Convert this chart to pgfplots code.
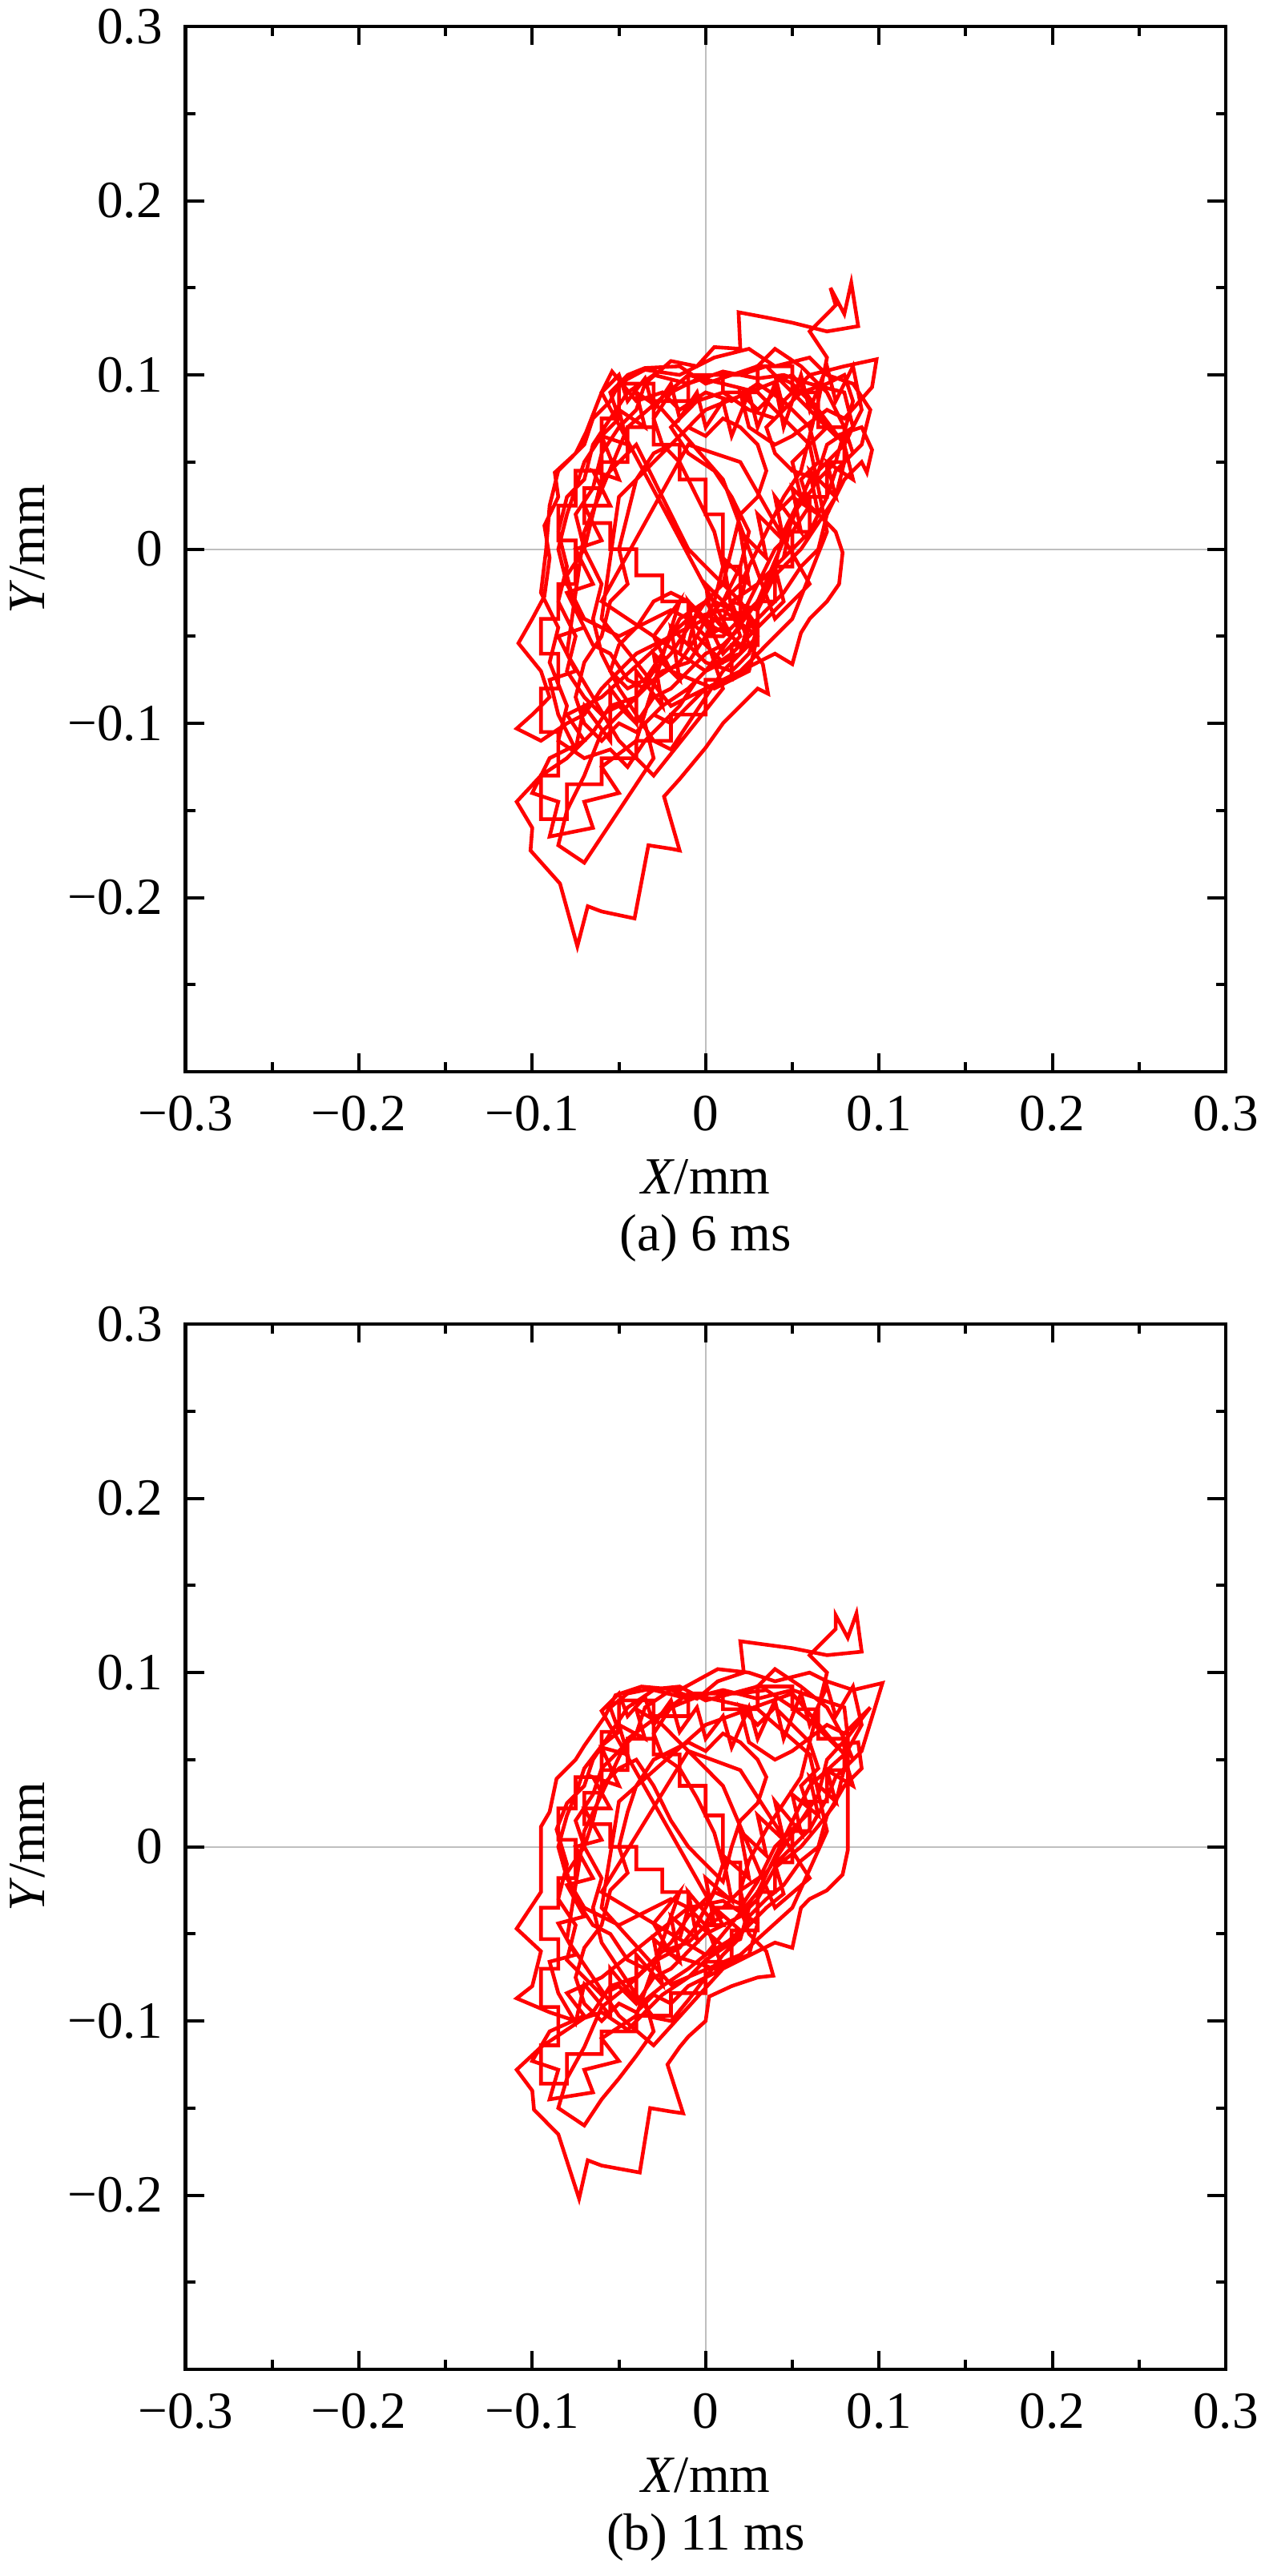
\documentclass[border=0pt]{standalone}
\usepackage{fontspec}
\setmainfont{Liberation Serif}
\usepackage{pgfplots}
\pgfplotsset{compat=1.18}
\newcommand\ff{\fontsize{16.3pt}{19.5pt}\selectfont}
\pgfplotsset{
  mystyle/.style={
    scale only axis, width=324.6pt, height=326.2pt,
    anchor=south west,
    xmin=-0.3,xmax=0.3,ymin=-0.3,ymax=0.3,
    xtick={-0.3,-0.2,-0.1,0,0.1,0.2,0.3},
    xticklabels={−0.3,−0.2,−0.1,0,0.1,0.2,0.3},
    ytick={-0.2,-0.1,0,0.1,0.2,0.3},
    yticklabels={−0.2,−0.1,0,0.1,0.2,0.3},
    minor xtick={-0.25,-0.15,-0.05,0.05,0.15,0.25},
    minor ytick={-0.25,-0.15,-0.05,0.05,0.15,0.25},
    tick align=inside, tick pos=both,
    major tick length=5.75pt, minor tick length=3pt,
    tick style={black, line width=1pt},
    axis line style={line width=1.1pt},
    extra x ticks={0}, extra y ticks={0},
    extra x tick labels={}, extra y tick labels={},
    extra tick style={grid=major, major grid style={draw=black!25, line width=0.5pt}},
    xticklabel style={inner sep=0pt, yshift=-7.25pt, font=\ff},
    yticklabel style={inner sep=0pt, xshift=-7pt, font=\ff},
    xlabel={\textit{X}/mm}, ylabel={\textit{Y}/mm},
    xlabel style={at={([yshift=-38.25pt]axis description cs:0.5,0)}, anchor=base, inner sep=0pt, font=\ff},
    ylabel style={at={([xshift=-44pt]axis description cs:0,0.5)}, anchor=base, inner sep=0pt, font=\ff},
  },
  trace/.style={red, line width=1.15pt, line join=miter, mark=none},
}
\begin{document}
\ff
\begin{tikzpicture}[font=\ff]
\begin{axis}[mystyle, at={(57.9pt,469.5pt)}]
\addplot[trace] coordinates {
(0.010,-0.040) (0.015,-0.030) (0.030,-0.020) (0.045,-0.005) (0.050,0.020) (0.062,0.035) (0.070,0.060) (0.085,0.070) (0.080,0.090) (0.060,0.095) (0.045,0.100) (0.030,0.098) (0.010,0.102) (-0.010,0.095) (-0.030,0.100) (-0.045,0.090) (-0.055,0.075) (-0.065,0.060) (-0.070,0.040) (-0.080,0.030) (-0.085,0.010) (-0.080,-0.010) (-0.085,-0.030) (-0.075,-0.050) (-0.080,-0.070) (-0.070,-0.085) (-0.060,-0.095) (-0.050,-0.090) (-0.040,-0.100) (-0.030,-0.085) (-0.020,-0.080) (-0.010,-0.070) (0.000,-0.060) (0.010,-0.055) (0.020,-0.045) (0.015,-0.030)
(0.030,-0.035) (0.040,-0.015) (0.055,0.000) (0.065,0.015) (0.075,0.030) (0.080,0.050) (0.090,0.060) (0.095,0.080) (0.085,0.095) (0.070,0.100) (0.060,0.110) (0.040,0.105) (0.025,0.115) (0.005,0.110) (-0.015,0.100) (-0.035,0.103) (-0.050,0.095) (-0.055,0.085) (-0.065,0.075) (-0.070,0.060) (-0.085,0.045) (-0.090,0.025) (-0.092,0.000) (-0.095,-0.025) (-0.085,-0.045) (-0.090,-0.065) (-0.080,-0.090) (-0.085,-0.110) (-0.070,-0.120) (-0.055,-0.115) (-0.045,-0.125) (-0.035,-0.110) (-0.025,-0.100) (-0.015,-0.090) (-0.005,-0.075) (0.005,-0.065) (0.020,-0.060) (0.030,-0.050)
(0.020,-0.030) (0.025,-0.010) (0.035,0.010) (0.045,0.030) (0.055,0.045) (0.060,0.065) (0.065,0.085) (0.070,0.110) (0.060,0.125) (0.075,0.140) (0.072,0.150) (0.080,0.135) (0.084,0.153) (0.088,0.128) (0.070,0.125) (0.050,0.130) (0.035,0.133) (0.019,0.136) (0.020,0.115) (0.005,0.116) (-0.005,0.105) (-0.020,0.108) (-0.035,0.095) (-0.040,0.080) (-0.050,0.070) (-0.060,0.055) (-0.065,0.035) (-0.075,0.020) (-0.070,0.000) (-0.080,-0.015) (-0.075,-0.035) (-0.065,-0.055) (-0.055,-0.060) (-0.045,-0.075) (-0.035,-0.080) (-0.025,-0.070) (-0.010,-0.065) (0.000,-0.050) (0.010,-0.045)
(0.000,-0.030) (-0.010,-0.045) (-0.020,-0.060) (-0.030,-0.070) (-0.040,-0.085) (-0.055,-0.090) (-0.065,-0.105) (-0.080,-0.120) (-0.095,-0.130) (-0.109,-0.145) (-0.100,-0.160) (-0.101,-0.173) (-0.084,-0.192) (-0.074,-0.228) (-0.068,-0.205) (-0.060,-0.208) (-0.041,-0.212) (-0.033,-0.170) (-0.020,-0.172) (-0.015,-0.173) (-0.024,-0.142) (-0.015,-0.132) (-0.005,-0.120) (0.000,-0.114) (0.010,-0.100) (0.020,-0.090) (0.030,-0.080) (0.036,-0.083) (0.033,-0.066) (0.025,-0.055) (0.020,-0.040)
(0.030,-0.020) (0.040,0.000) (0.050,0.010) (0.060,0.025) (0.055,0.040) (0.065,0.050) (0.060,0.070) (0.050,0.080) (0.040,0.090) (0.030,0.080) (0.020,0.090) (0.025,0.070) (0.040,0.060) (0.050,0.065) (0.070,0.080) (0.080,0.075) (0.096,0.093) (0.0986,0.109) (0.080,0.105) (0.060,0.100) (0.045,0.085) (0.030,0.095) (0.015,0.085) (0.000,0.090) (-0.015,0.080) (-0.025,0.090) (-0.040,0.085) (-0.054,0.102) (-0.060,0.090) (-0.069,0.067) (-0.075,0.055) (-0.087,0.044) (-0.085,0.030) (-0.093,0.0135) (-0.090,-0.005) (-0.093,-0.027) (-0.100,-0.040) (-0.108,-0.054) (-0.095,-0.070) (-0.090,-0.085) (-0.100,-0.095) (-0.109,-0.103) (-0.095,-0.110) (-0.080,-0.100) (-0.070,-0.095) (-0.060,-0.080) (-0.050,-0.070) (-0.040,-0.060) (-0.030,-0.055) (-0.020,-0.050) (-0.010,-0.045) (0.000,-0.040) (0.010,-0.030)
(0.020,-0.020) (0.030,0.000) (0.040,0.020) (0.050,0.030) (0.065,0.020) (0.075,0.010) (0.079,-0.002) (0.077,-0.020) (0.070,-0.030) (0.060,-0.040) (0.055,-0.048) (0.050,-0.066) (0.040,-0.060) (0.030,-0.065) (0.020,-0.070) (0.010,-0.075) (0.000,-0.080) (-0.010,-0.090) (-0.020,-0.100) (-0.030,-0.095) (-0.040,-0.105) (-0.050,-0.100) (-0.060,-0.110) (-0.070,-0.100) (-0.075,-0.085) (-0.070,-0.065) (-0.060,-0.050) (-0.055,-0.030) (-0.045,-0.020) (-0.050,0.000) (-0.045,0.020) (-0.040,0.040) (-0.030,0.055) (-0.020,0.060) (-0.010,0.070) (0.000,0.065) (0.010,0.075) (0.020,0.070) (0.030,0.060) (0.035,0.045) (0.030,0.030) (0.020,0.020) (0.015,0.000) (0.010,-0.020)
(0.000,-0.010) (-0.010,0.000) (-0.020,0.020) (-0.030,0.040) (-0.040,0.060) (-0.050,0.050) (-0.060,0.040) (-0.065,0.020) (-0.070,0.000) (-0.060,-0.020) (-0.065,-0.040) (-0.060,-0.060) (-0.050,-0.080) (-0.040,-0.095) (-0.030,-0.110) (-0.020,-0.115) (-0.010,-0.100) (0.000,-0.085) (0.010,-0.070) (0.020,-0.060) (0.025,-0.045) (0.035,-0.035) (0.045,-0.025) (0.055,-0.010) (0.065,0.000) (0.070,0.020) (0.080,0.040) (0.090,0.050) (0.093,0.044) (0.096,0.057) (0.090,0.070) (0.075,0.065) (0.065,0.075) (0.050,0.090) (0.035,0.105) (0.020,0.100) (0.000,0.100) (-0.020,0.090) (-0.030,0.075) (-0.025,0.060) (-0.015,0.050) (-0.005,0.030) (0.005,0.010) (0.010,-0.010)
(0.005,-0.030) (-0.005,-0.050) (-0.015,-0.065) (-0.030,-0.075) (-0.045,-0.090) (-0.060,-0.105) (-0.070,-0.130) (-0.080,-0.150) (-0.085,-0.170) (-0.070,-0.180) (-0.060,-0.165) (-0.050,-0.150) (-0.040,-0.135) (-0.030,-0.120) (-0.035,-0.100) (-0.025,-0.090) (-0.010,-0.080) (0.000,-0.070) (0.015,-0.060) (0.025,-0.050) (0.035,-0.040) (0.045,-0.030) (0.040,-0.010) (0.050,0.000) (0.060,0.010) (0.070,0.030) (0.075,0.045) (0.085,0.055) (0.080,0.070) (0.070,0.090) (0.055,0.105) (0.040,0.115) (0.030,0.105) (0.015,0.100) (0.000,0.095) (-0.015,0.105) (-0.035,0.104) (-0.045,0.100) (-0.055,0.090) (-0.050,0.075) (-0.060,0.065) (-0.070,0.050) (-0.075,0.035) (-0.080,0.020) (-0.085,0.000) (-0.080,-0.020) (-0.070,-0.040) (-0.060,-0.045) (-0.050,-0.050) (-0.040,-0.045) (-0.030,-0.040) (-0.020,-0.035) (-0.010,-0.040) (0.000,-0.050) (0.010,-0.050)
(0.020,-0.040) (0.030,-0.030) (0.040,-0.010) (0.045,0.010) (0.055,0.030) (0.050,0.050) (0.060,0.060) (0.070,0.070) (0.060,0.085) (0.050,0.095) (0.040,0.100) (0.045,0.080) (0.035,0.070) (0.040,0.055) (0.050,0.045) (0.065,0.040) (0.075,0.050) (0.085,0.085) (0.080,0.100) (0.070,0.095) (0.055,0.090) (0.040,0.075) (0.025,0.080) (0.010,0.090) (-0.005,0.085) (-0.020,0.070) (-0.010,0.055) (0.005,0.045) (0.015,0.030) (0.025,0.010) (0.020,-0.010) (0.010,-0.030)
(0.000,-0.040) (0.010,-0.060) (0.020,-0.050) (0.015,-0.035) (0.005,-0.025) (-0.005,-0.035) (-0.010,-0.055) (0.000,-0.065) (0.015,-0.070) (0.025,-0.060) (0.030,-0.045) (0.020,-0.030) (0.010,-0.020) (0.000,-0.030) (-0.015,-0.040) (-0.025,-0.060) (-0.035,-0.075) (-0.045,-0.080) (-0.055,-0.070) (-0.050,-0.055) (-0.040,-0.045) (-0.030,-0.030) (-0.020,-0.025) (-0.010,-0.030) (0.005,-0.045) (0.015,-0.050)
(-0.060,0.090) (-0.050,0.100) (-0.045,0.085) (-0.035,0.098) (-0.030,0.080) (-0.020,0.095) (-0.015,0.075) (-0.005,0.090) (0.000,0.070) (0.010,0.085) (0.015,0.065) (0.025,0.090) (0.030,0.070) (0.040,0.095) (0.045,0.070) (0.055,0.100) (0.060,0.080) (0.070,0.105) (0.075,0.085) (0.085,0.105) (0.090,0.080) (0.080,0.060) (0.085,0.040) (0.070,0.050) (0.075,0.030) (0.060,0.045) (0.065,0.020) (0.050,0.035) (0.055,0.010) (0.040,0.030) (0.045,0.005) (0.030,0.020) (0.035,-0.005) (0.020,0.010) (0.025,-0.020) (0.010,-0.005) (0.015,-0.035) (0.000,-0.020) (0.005,-0.050) (-0.010,-0.030) (-0.005,-0.060) (-0.020,-0.045) (-0.015,-0.075) (-0.030,-0.060) (-0.025,-0.090) (-0.040,-0.070) (-0.040,-0.100) (-0.055,-0.080) (-0.055,-0.110) (-0.070,-0.090) (-0.075,-0.115) (-0.085,-0.095) (-0.090,-0.075) (-0.075,-0.070) (-0.085,-0.050) (-0.070,-0.045) (-0.080,-0.025) (-0.065,-0.020) (-0.075,0.000) (-0.060,0.005) (-0.070,0.025) (-0.055,0.025) (-0.065,0.045) (-0.050,0.040) (-0.060,0.065) (-0.045,0.060) (-0.050,0.080) (-0.035,0.070) (-0.040,0.090) (-0.025,0.080)
(0.010,0.040) (0.040,-0.040) (0.060,-0.020) (0.020,0.050) (-0.010,0.060) (-0.060,-0.030) (0.000,-0.070) (0.030,-0.030) (0.060,0.040) (0.080,0.060) (0.050,0.100) (0.000,0.080) (-0.050,0.030) (-0.060,-0.040) (-0.020,-0.090) (0.020,-0.070) (0.050,-0.040) (0.070,0.010) (0.060,0.060) (0.030,0.090) (-0.010,0.100) (-0.045,0.070) (-0.070,0.010) (-0.080,-0.060) (-0.050,-0.110) (-0.030,-0.130) (-0.010,-0.105) (0.010,-0.080) (0.000,-0.050)
(0.005,-0.040) (0.020,-0.055) (0.010,-0.065) (-0.005,-0.050) (0.005,-0.030) (0.025,-0.040) (0.020,-0.060) (0.000,-0.070) (-0.015,-0.060) (-0.010,-0.040) (0.010,-0.035) (0.030,-0.050) (0.025,-0.070) (0.005,-0.080) (-0.020,-0.070) (-0.030,-0.050) (-0.015,-0.030)
(-0.040,-0.110) (-0.060,-0.125) (-0.050,-0.140) (-0.070,-0.145) (-0.065,-0.160) (-0.090,-0.165) (-0.085,-0.145) (-0.100,-0.140) (-0.090,-0.120) (-0.070,-0.110) (-0.080,-0.095) (-0.060,-0.085)
(-0.010,-0.040) (-0.010,-0.030) (-0.025,-0.030) (-0.025,-0.015) (-0.040,-0.015) (-0.040,0.000) (-0.055,0.000) (-0.055,0.015) (-0.070,0.015) (-0.070,0.035) (-0.060,0.035) (-0.060,0.050) (-0.045,0.050) (-0.045,0.070) (-0.030,0.070) (-0.030,0.085) (-0.010,0.085) (-0.010,0.100) (0.010,0.100) (0.010,0.090) (0.030,0.090) (0.030,0.105) (0.050,0.105) (0.050,0.090) (0.065,0.090) (0.065,0.070) (0.080,0.070) (0.080,0.050) (0.070,0.050) (0.070,0.030) (0.060,0.030) (0.060,0.010) (0.050,0.010) (0.050,-0.010) (0.040,-0.010) (0.040,-0.030) (0.030,-0.030) (0.030,-0.055) (0.015,-0.055) (0.015,-0.075) (0.000,-0.075) (0.000,-0.095) (-0.020,-0.095) (-0.020,-0.110) (-0.040,-0.110) (-0.040,-0.120) (-0.060,-0.120) (-0.060,-0.135) (-0.080,-0.135) (-0.080,-0.155) (-0.095,-0.155) (-0.095,-0.130) (-0.085,-0.130) (-0.085,-0.105) (-0.095,-0.105) (-0.095,-0.080) (-0.085,-0.080) (-0.085,-0.060) (-0.095,-0.060) (-0.095,-0.040) (-0.085,-0.040) (-0.085,-0.020) (-0.075,-0.020) (-0.075,0.005) (-0.085,0.005) (-0.085,0.025) (-0.075,0.025) (-0.075,0.045) (-0.060,0.045) (-0.060,0.075) (-0.050,0.075) (-0.050,0.095) (-0.030,0.095) (-0.030,0.060) (-0.015,0.060) (-0.015,0.040) (0.000,0.040) (0.000,0.020) (0.010,0.020) (0.010,-0.010) (0.020,-0.010) (0.020,-0.040) (0.005,-0.040)
};
\end{axis}
\begin{axis}[mystyle, at={(57.9pt,64.5pt)}]
\addplot[trace] coordinates {
(0.010,-0.035) (0.020,-0.025) (0.035,-0.015) (0.045,0.000) (0.055,0.015) (0.065,0.030) (0.070,0.050) (0.082,0.063) (0.080,0.080) (0.065,0.085) (0.050,0.090) (0.030,0.085) (0.010,0.090) (-0.010,0.085) (-0.030,0.090) (-0.045,0.080) (-0.055,0.065) (-0.065,0.050) (-0.070,0.035) (-0.080,0.025) (-0.086,0.010) (-0.080,-0.010) (-0.085,-0.030) (-0.075,-0.045) (-0.080,-0.065) (-0.070,-0.075) (-0.060,-0.085) (-0.050,-0.080) (-0.040,-0.090) (-0.030,-0.075) (-0.020,-0.070) (-0.010,-0.060) (0.000,-0.050) (0.010,-0.045) (0.020,-0.040)
(0.030,-0.030) (0.040,-0.012) (0.055,0.000) (0.065,0.012) (0.075,0.025) (0.080,0.045) (0.090,0.055) (0.102,0.094) (0.085,0.090) (0.070,0.095) (0.060,0.100) (0.040,0.095) (0.025,0.100) (0.007,0.102) (-0.015,0.090) (-0.037,0.092) (-0.052,0.087) (-0.058,0.075) (-0.070,0.058) (-0.075,0.050) (-0.086,0.039) (-0.090,0.020) (-0.095,0.0115) (-0.095,-0.026) (-0.109,-0.047) (-0.095,-0.060) (-0.100,-0.080) (-0.109,-0.087) (-0.090,-0.095) (-0.075,-0.100) (-0.060,-0.095) (-0.045,-0.105) (-0.035,-0.095) (-0.025,-0.085) (-0.010,-0.075) (0.000,-0.065) (0.015,-0.055) (0.025,-0.045)
(0.020,-0.025) (0.025,-0.008) (0.035,0.010) (0.045,0.025) (0.055,0.040) (0.060,0.060) (0.065,0.080) (0.070,0.100) (0.060,0.110) (0.075,0.125) (0.075,0.133) (0.082,0.120) (0.087,0.134) (0.090,0.112) (0.070,0.110) (0.050,0.114) (0.035,0.116) (0.020,0.118) (0.022,0.100) (0.007,0.095) (-0.005,0.085) (-0.020,0.090) (-0.035,0.080) (-0.040,0.065) (-0.050,0.055) (-0.060,0.045) (-0.065,0.030) (-0.075,0.015) (-0.070,0.000) (-0.080,-0.015) (-0.075,-0.030) (-0.065,-0.045) (-0.055,-0.050) (-0.045,-0.065) (-0.035,-0.070) (-0.025,-0.060) (-0.010,-0.055) (0.000,-0.045) (0.010,-0.040)
(0.000,-0.030) (-0.010,-0.040) (-0.020,-0.055) (-0.030,-0.065) (-0.040,-0.075) (-0.055,-0.080) (-0.065,-0.095) (-0.080,-0.105) (-0.095,-0.115) (-0.109,-0.128) (-0.100,-0.140) (-0.099,-0.151) (-0.085,-0.165) (-0.073,-0.202) (-0.068,-0.180) (-0.060,-0.183) (-0.038,-0.187) (-0.032,-0.150) (-0.020,-0.152) (-0.013,-0.153) (-0.022,-0.125) (-0.015,-0.115) (-0.010,-0.109) (0.000,-0.100) (0.002,-0.086) (0.015,-0.080) (0.030,-0.075) (0.039,-0.074) (0.035,-0.060) (0.025,-0.050) (0.020,-0.035)
(0.030,-0.020) (0.040,0.000) (0.050,0.010) (0.060,0.020) (0.055,0.035) (0.065,0.045) (0.060,0.060) (0.050,0.070) (0.040,0.080) (0.030,0.070) (0.020,0.080) (0.025,0.060) (0.040,0.050) (0.050,0.055) (0.070,0.070) (0.080,0.065) (0.095,0.080) (0.082,0.063) (0.082,0.030) (0.082,-0.002) (0.079,-0.016) (0.070,-0.025) (0.060,-0.030) (0.055,-0.035) (0.050,-0.058) (0.040,-0.055) (0.030,-0.060) (0.020,-0.065) (0.010,-0.070) (0.000,-0.075) (-0.010,-0.080) (-0.020,-0.090) (-0.030,-0.085) (-0.040,-0.095) (-0.050,-0.090) (-0.060,-0.100) (-0.070,-0.090) (-0.075,-0.075) (-0.070,-0.058) (-0.060,-0.045) (-0.055,-0.025) (-0.045,-0.015) (-0.050,0.000) (-0.045,0.020) (-0.040,0.035) (-0.030,0.050) (-0.020,0.055) (-0.010,0.060) (0.000,0.055) (0.010,0.065) (0.020,0.060) (0.030,0.050) (0.035,0.040) (0.030,0.025) (0.020,0.015) (0.015,0.000) (0.010,-0.020)
(0.000,-0.010) (-0.010,0.000) (-0.020,0.015) (-0.030,0.035) (-0.040,0.050) (-0.050,0.045) (-0.060,0.035) (-0.065,0.015) (-0.070,0.000) (-0.060,-0.018) (-0.065,-0.035) (-0.060,-0.055) (-0.050,-0.070) (-0.040,-0.085) (-0.030,-0.098) (-0.020,-0.100) (-0.010,-0.088) (0.000,-0.075) (0.010,-0.062) (0.020,-0.052) (0.025,-0.040) (0.035,-0.030) (0.045,-0.022) (0.055,-0.008) (0.065,0.000) (0.070,0.018) (0.080,0.035) (0.090,0.045) (0.088,0.060) (0.075,0.058) (0.065,0.068) (0.050,0.080) (0.035,0.090) (0.020,0.088) (0.000,0.088) (-0.020,0.080) (-0.030,0.065) (-0.025,0.052) (-0.015,0.045) (-0.005,0.028) (0.005,0.008) (0.010,-0.010)
(0.005,-0.025) (-0.005,-0.045) (-0.015,-0.058) (-0.030,-0.066) (-0.045,-0.080) (-0.060,-0.092) (-0.070,-0.115) (-0.080,-0.133) (-0.085,-0.150) (-0.070,-0.160) (-0.060,-0.145) (-0.050,-0.133) (-0.040,-0.120) (-0.030,-0.106) (-0.035,-0.088) (-0.025,-0.080) (-0.010,-0.070) (0.000,-0.062) (0.015,-0.053) (0.025,-0.045) (0.035,-0.035) (0.045,-0.027) (0.040,-0.010) (0.050,0.000) (0.060,0.010) (0.070,0.028) (0.075,0.040) (0.085,0.050) (0.080,0.062) (0.070,0.080) (0.055,0.092) (0.040,0.102) (0.030,0.092) (0.015,0.088) (0.000,0.084) (-0.015,0.092) (-0.035,0.090) (-0.045,0.088) (-0.055,0.080) (-0.050,0.066) (-0.060,0.058) (-0.070,0.045) (-0.075,0.030) (-0.080,0.018) (-0.085,0.000) (-0.080,-0.018) (-0.070,-0.035) (-0.060,-0.040) (-0.050,-0.045) (-0.040,-0.040) (-0.030,-0.035) (-0.020,-0.030) (-0.010,-0.035) (0.000,-0.045) (0.010,-0.045)
(-0.060,0.078) (-0.050,0.088) (-0.045,0.075) (-0.035,0.086) (-0.030,0.070) (-0.020,0.084) (-0.015,0.066) (-0.005,0.080) (0.000,0.062) (0.010,0.075) (0.015,0.057) (0.025,0.080) (0.030,0.062) (0.040,0.084) (0.045,0.062) (0.055,0.088) (0.060,0.070) (0.070,0.092) (0.075,0.075) (0.085,0.092) (0.090,0.070) (0.080,0.052) (0.085,0.035) (0.070,0.044) (0.075,0.026) (0.060,0.040) (0.065,0.018) (0.050,0.030) (0.055,0.008) (0.040,0.026) (0.045,0.004) (0.030,0.018) (0.035,-0.005) (0.020,0.009) (0.025,-0.018) (0.010,-0.005) (0.015,-0.031) (0.000,-0.018) (0.005,-0.044) (-0.010,-0.026) (-0.005,-0.053) (-0.020,-0.040) (-0.015,-0.066) (-0.030,-0.053) (-0.025,-0.079) (-0.040,-0.062) (-0.040,-0.088) (-0.055,-0.070) (-0.055,-0.097) (-0.070,-0.079) (-0.075,-0.101) (-0.085,-0.084) (-0.090,-0.066) (-0.075,-0.062) (-0.085,-0.044) (-0.070,-0.040) (-0.080,-0.022) (-0.065,-0.018) (-0.075,0.000) (-0.060,0.004) (-0.070,0.022) (-0.055,0.022) (-0.065,0.040) (-0.050,0.035) (-0.060,0.057) (-0.045,0.053) (-0.050,0.070) (-0.035,0.062) (-0.040,0.079) (-0.025,0.070)
(0.010,0.035) (0.040,-0.035) (0.060,-0.018) (0.020,0.044) (-0.010,0.055) (-0.060,-0.026) (0.000,-0.062) (0.030,-0.026) (0.060,0.035) (0.080,0.053) (0.050,0.088) (0.000,0.070) (-0.050,0.026) (-0.060,-0.035) (-0.020,-0.079) (0.020,-0.062) (0.050,-0.035) (0.070,0.009) (0.060,0.053) (0.030,0.079) (-0.010,0.088) (-0.045,0.062) (-0.070,0.009) (-0.080,-0.053) (-0.050,-0.097) (-0.030,-0.114) (-0.010,-0.092) (0.010,-0.070) (0.000,-0.044)
(0.005,-0.035) (0.020,-0.048) (0.010,-0.057) (-0.005,-0.044) (0.005,-0.026) (0.025,-0.035) (0.020,-0.053) (0.000,-0.062) (-0.015,-0.053) (-0.010,-0.035) (0.010,-0.031) (0.030,-0.044) (0.025,-0.062) (0.005,-0.070) (-0.020,-0.062) (-0.030,-0.044) (-0.015,-0.026)
(-0.040,-0.097) (-0.060,-0.110) (-0.050,-0.123) (-0.070,-0.128) (-0.065,-0.141) (-0.090,-0.145) (-0.085,-0.128) (-0.100,-0.123) (-0.090,-0.106) (-0.070,-0.097) (-0.080,-0.084) (-0.060,-0.075)
(-0.010,-0.035) (-0.010,-0.026) (-0.025,-0.026) (-0.025,-0.013) (-0.040,-0.013) (-0.040,0.000) (-0.055,0.000) (-0.055,0.013) (-0.070,0.013) (-0.070,0.031) (-0.060,0.031) (-0.060,0.044) (-0.045,0.044) (-0.045,0.062) (-0.030,0.062) (-0.030,0.075) (-0.010,0.075) (-0.010,0.088) (0.010,0.088) (0.010,0.079) (0.030,0.079) (0.030,0.092) (0.050,0.092) (0.050,0.079) (0.065,0.079) (0.065,0.062) (0.080,0.062) (0.080,0.044) (0.070,0.044) (0.070,0.026) (0.060,0.026) (0.060,0.009) (0.050,0.009) (0.050,-0.009) (0.040,-0.009) (0.040,-0.026) (0.030,-0.026) (0.030,-0.048) (0.015,-0.048) (0.015,-0.066) (0.000,-0.066) (0.000,-0.084) (-0.020,-0.084) (-0.020,-0.097) (-0.040,-0.097) (-0.040,-0.106) (-0.060,-0.106) (-0.060,-0.119) (-0.080,-0.119) (-0.080,-0.136) (-0.095,-0.136) (-0.095,-0.114) (-0.085,-0.114) (-0.085,-0.092) (-0.095,-0.092) (-0.095,-0.070) (-0.085,-0.070) (-0.085,-0.053) (-0.095,-0.053) (-0.095,-0.035) (-0.085,-0.035) (-0.085,-0.018) (-0.075,-0.018) (-0.075,0.004) (-0.085,0.004) (-0.085,0.022) (-0.075,0.022) (-0.075,0.040) (-0.060,0.040) (-0.060,0.066) (-0.050,0.066) (-0.050,0.084) (-0.030,0.084) (-0.030,0.053) (-0.015,0.053) (-0.015,0.035) (0.000,0.035) (0.000,0.018) (0.010,0.018) (0.010,-0.009) (0.020,-0.009) (0.020,-0.035) (0.005,-0.035)
};
\end{axis}
\node[anchor=base, inner sep=0pt, font=\ff] at (220.2pt,413.5pt) {(a) 6 ms};
\node[anchor=base, inner sep=0pt, font=\ff] at (220.2pt,8.25pt) {(b) 11 ms};
\pgfresetboundingbox
\path[use as bounding box] (0,0) rectangle (393.5pt,804pt);
\end{tikzpicture}
\end{document}
